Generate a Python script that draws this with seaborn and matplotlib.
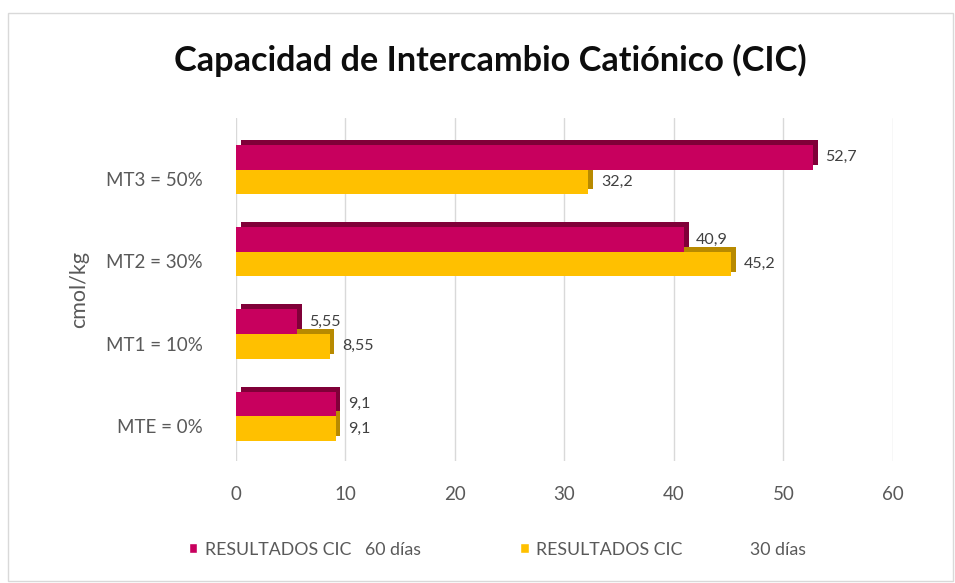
from matplotlib import pyplot as plt
from matplotlib import patheffects as pe
from matplotlib import transforms as mtransforms
from matplotlib.patches import Rectangle
import pandas as pd
import seaborn as sns

categorias = ['MT3 = 50%', 'MT2 = 30%', 'MT1 = 10%', 'MTE = 0%']
cic_60 = [52.7, 40.9, 5.55, 9.1]
cic_30 = [32.2, 45.2, 8.55, 9.1]
serie_60 = 'RESULTADOS CIC   60 días'
serie_30 = 'RESULTADOS CIC' + ' ' * 15 + '30 días'
xticks = [0, 10, 20, 30, 40, 50, 60]

df = pd.DataFrame({
    'categoria': categorias * 2,
    'valor': cic_60 + cic_30,
    'serie': [serie_60] * 4 + [serie_30] * 4,
})

sns.set_style('white')
plt.rcParams['font.family'] = ['Lato', 'DejaVu Sans']

fig = plt.figure(figsize=(9.55, 5.83), dpi=100)
ax = fig.add_axes([0.247, 0.21, 0.688, 0.588])

colores = {serie_60: '#C8005E', serie_30: '#FFC000'}
sombras = {serie_60: '#800038', serie_30: '#B88A00'}
sns.barplot(data=df, y='categoria', x='valor', hue='serie', order=categorias,
            hue_order=[serie_60, serie_30], palette=colores, width=0.6,
            orient='h', ax=ax, saturation=1, legend=True)

for i, cont in enumerate(ax.containers):
    serie = [serie_60, serie_30][i]
    for p in cont:
        p.set_zorder(3 - i)
        p.set_edgecolor('none')
        p.set_path_effects([
            pe.SimplePatchShadow(offset=(3.5, 3.5), shadow_rgbFace=sombras[serie], alpha=1),
            pe.Normal(),
        ])
    vals = cic_60 if i == 0 else cic_30
    ax.bar_label(cont, labels=[f'{v:g}'.replace('.', ',') for v in vals],
                 padding=9, fontsize=11.5, color='#404040', zorder=5)

ax.set_xlim(0, 60)
ax.set_ylim(3.54, -0.63)
ax.set_xticks(xticks)
ax.xaxis.grid(True, color='#D9D9D9', linewidth=1)
ax.set_axisbelow(True)
for s in ax.spines.values():
    s.set_visible(False)
ax.tick_params(axis='x', length=0, pad=18, labelsize=13.5, labelcolor='#595959')
ax.tick_params(axis='y', length=0, pad=24, labelsize=13.5, labelcolor='#595959')
# etiquetas de categoria un poco mas abajo, como en el grafico 3D
bajar = mtransforms.ScaledTranslation(0, -7 / 72, fig.dpi_scale_trans)
for lab in ax.get_yticklabels():
    lab.set_transform(lab.get_transform() + bajar)
ax.set_xlabel('')
ax.set_ylabel('cmol/kg', fontsize=15.5, color='#595959', labelpad=12)

ax.legend(loc='upper center', bbox_to_anchor=(0.398, -0.19), ncol=2, frameon=False,
          fontsize=12.8, labelcolor='#595959', handlelength=0.5, handleheight=0.5,
          handletextpad=0.4, columnspacing=5.6)

fig.text(0.513, 0.897, 'Capacidad de Intercambio Catiónico (CIC)', ha='center',
         va='center', fontsize=24.7, fontweight='bold', color='#0D0D0D')
fig.patches.append(Rectangle((0.008, 0.003), 0.99, 0.975, transform=fig.transFigure,
                             fill=False, edgecolor='#D9D9D9', linewidth=1))

fig.savefig('out.png', dpi=100)
